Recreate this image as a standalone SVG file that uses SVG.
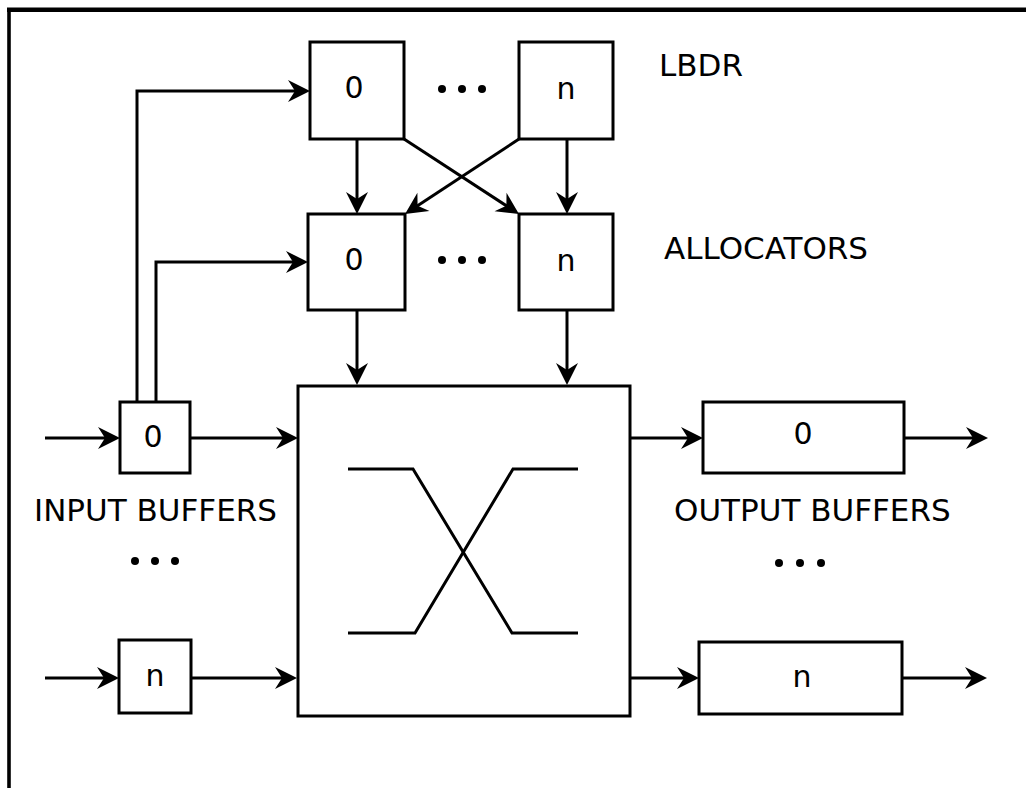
<svg xmlns="http://www.w3.org/2000/svg" width="1026" height="788" viewBox="0 0 1026 788">
<defs>
<marker id="ah" markerUnits="userSpaceOnUse" markerWidth="30" markerHeight="30" viewBox="-25 -15 30 30" refX="0" refY="0" orient="auto" overflow="visible">
<path d="M4,0 L-18,-11 L-11,0 L-18,11 Z" fill="#000"/>
</marker>
</defs>
<style>
.box{fill:#fff;stroke:#000;stroke-width:3}
.ln{fill:none;stroke:#000;stroke-width:3}
.ar{fill:none;stroke:#000;stroke-width:3;marker-end:url(#ah)}
.lbl{font-family:"DejaVu Sans",sans-serif;font-size:31px;fill:#000}
.num{font-family:"DejaVu Sans",sans-serif;font-size:30px;fill:#000;text-anchor:middle}
.dot{fill:#000}
</style>
<rect width="1026" height="788" fill="#fff"/>
<g id="frame">
<line x1="7" y1="9.8" x2="1026" y2="9.8" stroke="#000" stroke-width="4.6"/>
<line x1="9" y1="8" x2="9" y2="788" stroke="#000" stroke-width="3.6"/>
</g>
<g id="connectors">
<polyline class="ar" points="137,402 137,91 306,91"/>
<polyline class="ar" points="156,402 156,262 304,262"/>
<line class="ar" x1="357" y1="139" x2="357" y2="210"/>
<line class="ar" x1="567" y1="139" x2="567" y2="210"/>
<line class="ar" x1="404" y1="139" x2="515.6" y2="211.8"/>
<line class="ar" x1="519" y1="139" x2="408.4" y2="211.8"/>
<line class="ar" x1="357" y1="310" x2="357" y2="381"/>
<line class="ar" x1="567" y1="310" x2="567" y2="381"/>
<line class="ar" x1="45" y1="438" x2="116" y2="438"/>
<line class="ar" x1="190" y1="438" x2="294" y2="438"/>
<line class="ar" x1="45" y1="678" x2="115" y2="678"/>
<line class="ar" x1="191" y1="678" x2="293" y2="678"/>
<line class="ar" x1="630" y1="438" x2="699" y2="438"/>
<line class="ar" x1="904" y1="438" x2="984" y2="438"/>
<line class="ar" x1="630" y1="678" x2="695" y2="678"/>
<line class="ar" x1="902" y1="678" x2="983" y2="678"/>
</g>
<g id="lbdr0"><rect class="box" x="310" y="42" width="94" height="97"/><text class="num" x="354" y="98">0</text></g>
<g id="lbdrn"><rect class="box" x="519" y="42" width="94" height="97"/><text class="num" x="566" y="99">n</text></g>
<g id="lbdr-dots"><circle class="dot" cx="442" cy="89" r="4"/><circle class="dot" cx="462" cy="89" r="4"/><circle class="dot" cx="482" cy="89" r="4"/></g>
<g id="alloc0"><rect class="box" x="308" y="214" width="97" height="96"/><text class="num" x="354" y="270">0</text></g>
<g id="allocn"><rect class="box" x="519" y="214" width="94" height="96"/><text class="num" x="566" y="271">n</text></g>
<g id="alloc-dots"><circle class="dot" cx="442" cy="260" r="4"/><circle class="dot" cx="462" cy="260" r="4"/><circle class="dot" cx="482" cy="260" r="4"/></g>
<text class="lbl" x="659" y="76">LBDR</text>
<text class="lbl" x="664" y="259">ALLOCATORS</text>
<g id="switch">
<rect class="box" x="298" y="386" width="332" height="330"/>
<polyline class="ln" points="348,469 413,469 512,633 578,633"/>
<polyline class="ln" points="348,633 415,633 513,469 578,469"/>
</g>
<g id="ib0"><rect class="box" x="120" y="402" width="70" height="71"/><text class="num" x="153" y="447">0</text></g>
<g id="ibn"><rect class="box" x="119" y="640" width="72" height="73"/><text class="num" x="155" y="686">n</text></g>
<text class="lbl" x="34" y="521">INPUT BUFFERS</text>
<g id="ib-dots"><circle class="dot" cx="135" cy="561" r="4"/><circle class="dot" cx="155" cy="561" r="4"/><circle class="dot" cx="175" cy="561" r="4"/></g>
<g id="ob0"><rect class="box" x="703" y="402" width="201" height="71"/><text class="num" x="803" y="444">0</text></g>
<g id="obn"><rect class="box" x="699" y="642" width="203" height="72"/><text class="num" x="802" y="687">n</text></g>
<text class="lbl" x="674" y="521">OUTPUT BUFFERS</text>
<g id="ob-dots"><circle class="dot" cx="779" cy="563" r="4"/><circle class="dot" cx="800" cy="563" r="4"/><circle class="dot" cx="821" cy="563" r="4"/></g>
</svg>
